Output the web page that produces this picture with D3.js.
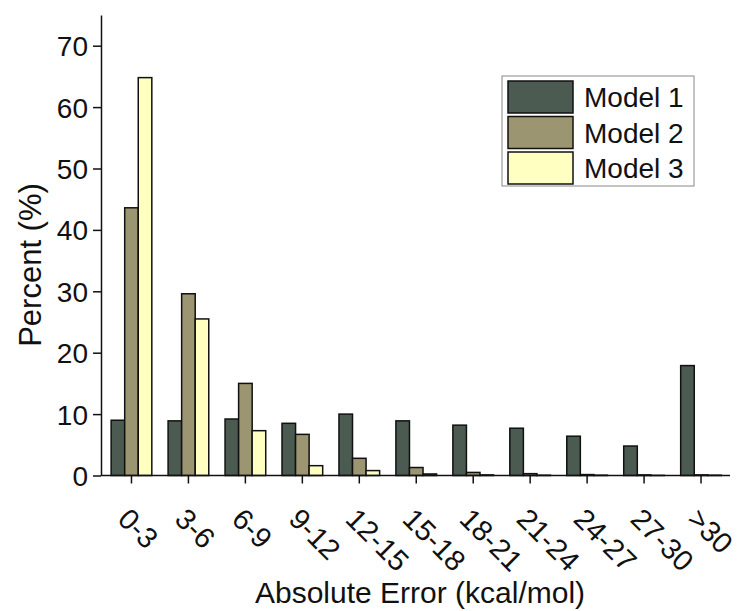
<!DOCTYPE html>
<html>
<head>
<meta charset="utf-8">
<script src="https://cdn.jsdelivr.net/npm/d3@7"></script>
<style>
  body { margin: 0; background: #fff; }
  svg text { font-family: "Liberation Sans", Arial, sans-serif; fill: #111; }
</style>
</head>
<body>
<svg id="chart" width="741" height="611"></svg>
<script>
// data
var categories = ["0-3", "3-6", "6-9", "9-12", "12-15", "15-18", "18-21", "21-24", "24-27", "27-30", ">30"];
var models = ["Model 1", "Model 2", "Model 3"];
var model1 = [9.0, 8.9, 9.2, 8.5, 10.0, 8.9, 8.2, 7.7, 6.4, 4.8, 17.9];
var model2 = [43.6, 29.6, 15.0, 6.7, 2.8, 1.3, 0.5, 0.3, 0.15, 0.1, 0.1];
var model3 = [64.8, 25.5, 7.3, 1.6, 0.8, 0.25, 0.1, 0.05, 0.05, 0.02, 0.05];
var yTicks = [0, 10, 20, 30, 40, 50, 60, 70];
var colors = ["#4b5b51", "#9b9571", "#ffffc2"];

var svg = d3.select("#chart");

// scales
var xScale = d3.scaleBand()
  .domain(categories)
  .range([103, 729.5])
  .padding(0);

var xInner = d3.scaleBand()
  .domain(models)
  .range([0, xScale.bandwidth()])
  .paddingInner(0)
  .paddingOuter(0.6);

var yScale = d3.scaleLinear()
  .domain([0, 75])
  .range([475.5, 15]);

// flatten into one row per bar
var bars = [];
categories.forEach(function(c, i) {
  bars.push({cat: c, model: models[0], value: model1[i], idx: 0});
  bars.push({cat: c, model: models[1], value: model2[i], idx: 1});
  bars.push({cat: c, model: models[2], value: model3[i], idx: 2});
});

// add bars
svg.selectAll(".bar")
  .data(bars)
  .join("rect")
  .attr("class", "bar")
  .attr("x", function(d) { return xScale(d.cat) + xInner(d.model); })
  .attr("y", function(d) { return yScale(d.value); })
  .attr("width", xInner.bandwidth())
  .attr("height", function(d) { return yScale(0) - yScale(d.value); })
  .attr("fill", function(d) { return colors[d.idx]; })
  .attr("stroke", "#111")
  .attr("stroke-width", 1.5);

// y axis
var yAxis = svg.append("g")
  .attr("transform", "translate(101,0)")
  .call(d3.axisLeft(yScale).tickValues(yTicks).tickSize(8).tickSizeOuter(0).tickPadding(5));
yAxis.select(".domain").attr("stroke", "#111").attr("stroke-width", 1.5);
yAxis.selectAll(".tick line").attr("stroke", "#111").attr("stroke-width", 1.5);
yAxis.selectAll("text")
  .style("font-size", "28px")
  .attr("dy", "0.36em");

// x axis
var xAxis = svg.append("g")
  .attr("transform", "translate(0," + yScale(0) + ")")
  .call(d3.axisBottom(xScale).tickSize(8).tickSizeOuter(0));
xAxis.select(".domain")
  .attr("d", "M101,0H730")
  .attr("stroke", "#111").attr("stroke-width", 1.5);
xAxis.selectAll(".tick line").attr("stroke", "#111").attr("stroke-width", 1.5);
xAxis.selectAll("text")
  .style("font-size", "29px")
  .attr("text-anchor", "start")
  .attr("y", 0)
  .attr("dy", "0.35em")
  .attr("transform", "translate(-8,38) rotate(45)");

// text label for the y axis
svg.append("text")
  .attr("transform", "rotate(-90)")
  .attr("x", -265)
  .attr("y", 41)
  .style("font-size", "31px")
  .style("text-anchor", "middle")
  .text("Percent (%)");

// text label for the x axis
svg.append("text")
  .attr("x", 420)
  .attr("y", 603)
  .style("font-size", "30px")
  .style("text-anchor", "middle")
  .text("Absolute Error (kcal/mol)");

// legend
var legend = svg.append("g").attr("transform", "translate(502,76)");
legend.append("rect")
  .attr("width", 192)
  .attr("height", 110)
  .attr("fill", "#fff")
  .attr("stroke", "#888")
  .attr("stroke-width", 1);

var item = legend.selectAll(".item")
  .data(models)
  .join("g")
  .attr("class", "item")
  .attr("transform", function(d, i) { return "translate(6," + (5 + i * 35.5) + ")"; });

item.append("rect")
  .attr("width", 65)
  .attr("height", 32)
  .attr("fill", function(d, i) { return colors[i]; })
  .attr("stroke", "#111")
  .attr("stroke-width", 1.5);

item.append("text")
  .attr("x", 76)
  .attr("y", 16)
  .attr("dy", "0.36em")
  .style("font-size", "28px")
  .text(function(d) { return d; });
</script>
</body>
</html>
